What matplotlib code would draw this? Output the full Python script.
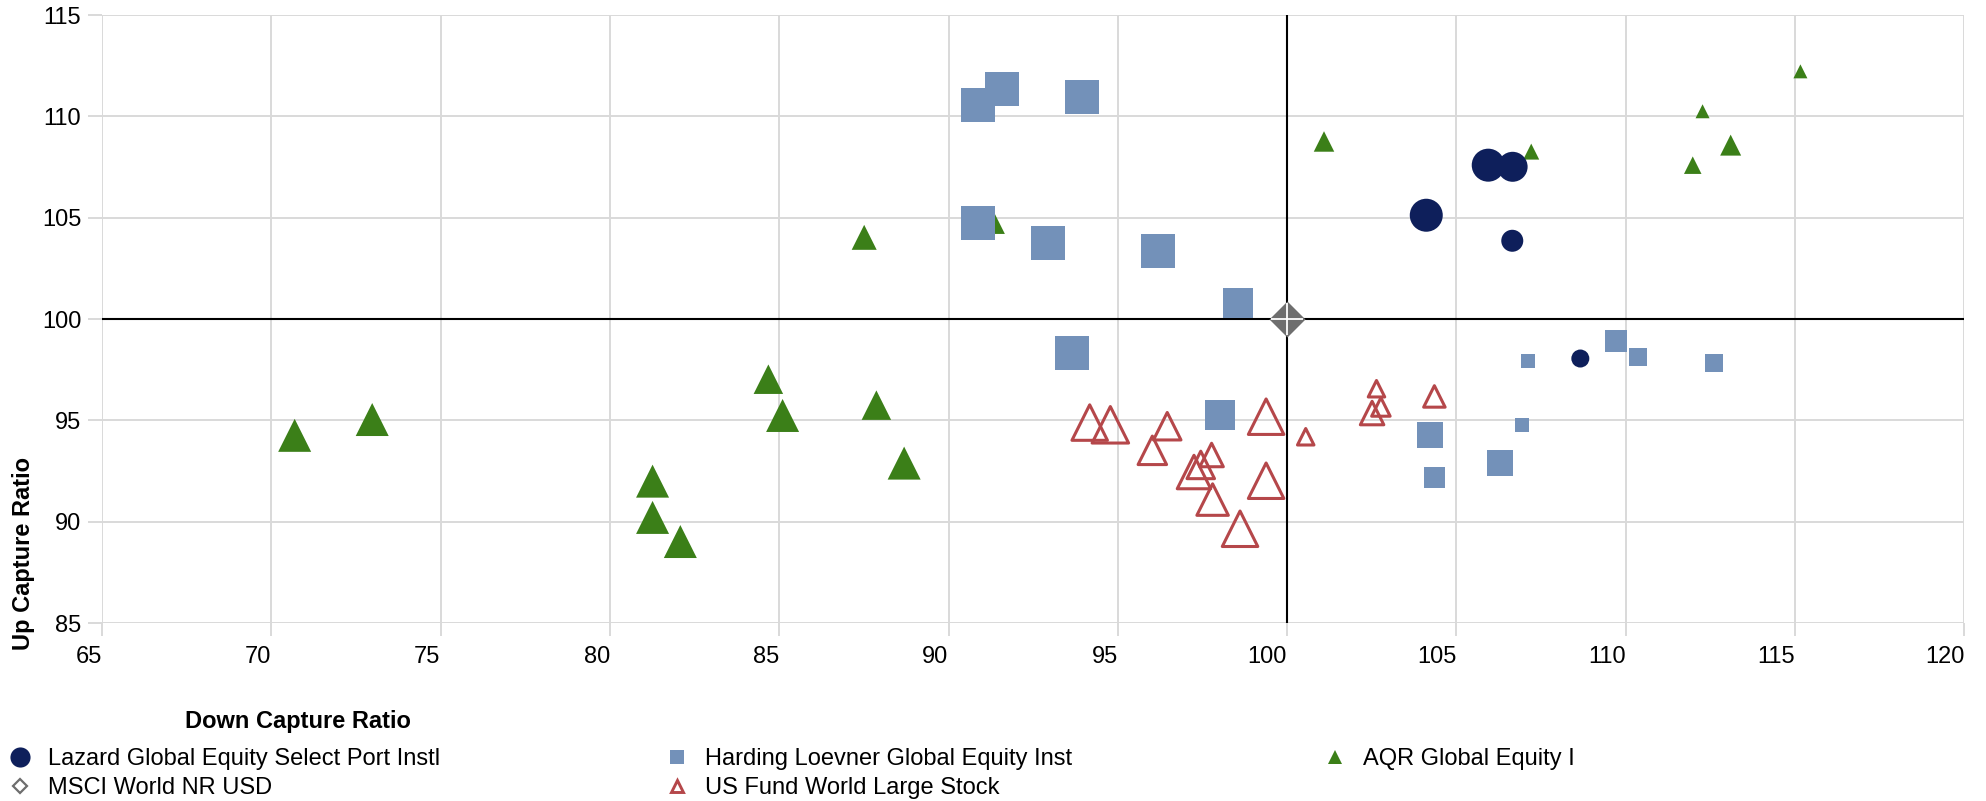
import matplotlib

matplotlib.use("Agg")
import matplotlib.pyplot as plt
from matplotlib.lines import Line2D

plt.rcParams["font.family"] = ["Liberation Sans", "DejaVu Sans"]
plt.rcParams["font.size"] = 17

# Down capture (x), up capture (y), marker width in px
lazard_x = [105.94, 106.66, 104.11, 106.65, 108.66]
lazard_y = [107.59, 107.51, 105.12, 103.86, 98.05]
lazard_w = [33, 30, 33, 22, 18]

harding_x = [90.87, 91.58, 93.94, 90.87, 92.94, 96.19, 98.56, 93.64, 98.01,
             109.71, 110.37, 112.61, 107.11, 106.93, 104.22, 104.34, 106.29]
harding_y = [110.57, 111.36, 110.95, 104.75, 103.77, 103.37, 100.79, 98.33, 95.28,
             98.93, 98.13, 97.84, 97.94, 94.78, 94.29, 92.20, 92.91]
harding_w = [34, 34, 33.5, 34, 34, 34, 30, 34, 30,
             22, 18, 18, 14, 14, 26, 21, 26]

aqr_x = [70.69, 72.98, 81.26, 81.26, 82.08, 84.68, 85.10, 87.87, 88.69,
         87.51, 91.34, 101.09, 107.21, 115.16, 112.27, 113.10, 111.98]
aqr_y = [94.26, 95.04, 92.00, 90.21, 89.02, 97.03, 95.24, 95.75, 92.89,
         104.03, 104.74, 108.76, 108.26, 112.22, 110.25, 108.58, 107.59]
aqr_w = [33, 33, 33, 33, 33, 29.5, 33, 29.5, 33,
         25, 22, 20.5, 16, 14, 14, 21, 17.5]

usfund_x = [94.17, 94.78, 96.46, 96.02, 99.38, 100.55, 97.77, 97.25, 97.45,
            97.80, 99.38, 98.61, 102.64, 102.77, 102.51, 104.35]
usfund_y = [94.89, 94.78, 94.71, 93.52, 95.18, 94.19, 93.29, 92.45, 92.80,
            91.09, 92.02, 89.65, 96.56, 95.66, 95.36, 96.18]
usfund_w = [36, 37, 28, 29, 36, 17, 24, 34, 28,
            32, 36, 36, 17, 19, 24, 22]

msci_x = [100.0]
msci_y = [100.0]

x_ticks = list(range(65, 121, 5))
y_ticks = list(range(85, 116, 5))

C_LAZARD = "#0e1f5b"
C_HARDING = "#7391b9"
C_AQR = "#3b7f18"
C_USFUND = "#b5474a"
C_MSCI = "#6e6e6e"
GRID = "#d9d9d9"

W, H, DPI = 1986, 801, 100
PX = 72 / DPI  # px -> pt


def area(widths, minus=0.0):
    return [((w - minus) * PX) ** 2 for w in widths]


fig = plt.figure(figsize=(W / DPI, H / DPI), dpi=DPI)
ax = fig.add_axes([102 / W, 1 - 623 / H, (1964.3 - 102) / W, 608 / H])

ax.set_xlim(65, 120)
ax.set_ylim(85, 115)
ax.set_xticks(x_ticks)
ax.set_yticks(y_ticks)
for s in ax.spines.values():
    s.set_visible(False)
ax.grid(True, color=GRID, linewidth=1.4, zorder=0)
ax.set_axisbelow(True)
ax.tick_params(axis="y", length=10, width=1.4, color=GRID, pad=5, labelsize=17)
ax.tick_params(axis="x", length=9.4, width=1.4, color=GRID, pad=7.5, labelsize=17)
for lbl in ax.get_xticklabels():
    lbl.set_ha("right")

ax.axhline(100, color="black", linewidth=1.5, zorder=2)
ax.axvline(100, color="black", linewidth=1.5, zorder=2)

ax.scatter(aqr_x, aqr_y, s=area(aqr_w), marker="^", color=C_AQR,
           linewidths=0, zorder=3)
ax.scatter(usfund_x, usfund_y, s=area(usfund_w, 0.5), marker="^",
           facecolors="none", edgecolors=C_USFUND, linewidths=2.2, zorder=4)
ax.scatter(harding_x, harding_y, s=area(harding_w), marker="s", color=C_HARDING,
           linewidths=0, zorder=5)
ax.scatter(lazard_x, lazard_y, s=area(lazard_w), marker="o", color=C_LAZARD,
           linewidths=0, zorder=6)
ax.scatter(msci_x, msci_y, s=area([36 / 1.414]), marker="D", color=C_MSCI,
           linewidths=0, zorder=7)
ax.scatter(msci_x, msci_y, s=area([32]), marker="+", color="white",
           linewidths=1.3, zorder=8)

ax.set_ylabel("Up Capture Ratio", fontweight="bold", fontsize=17,
              ha="center", va="center")
ax.yaxis.set_label_coords(-0.0422, 0.114)
ax.set_xlabel("Down Capture Ratio", fontweight="bold", fontsize=17,
              ha="center", va="center")
ax.xaxis.set_label_coords(0.105, -0.162)

h_lazard = Line2D([], [], ls="none", marker="o", color=C_LAZARD, markersize=14.5,
                  markeredgewidth=0)
h_msci = Line2D([], [], ls="none", marker="D", markerfacecolor="none",
                markeredgecolor=C_MSCI, markersize=7.6, markeredgewidth=1.6)
h_harding = Line2D([], [], ls="none", marker="s", color=C_HARDING, markersize=10.6,
                   markeredgewidth=0)
h_usfund = Line2D([], [], ls="none", marker="^", markerfacecolor="none",
                  markeredgecolor=C_USFUND, markersize=9, markeredgewidth=2.1)
h_aqr = Line2D([], [], ls="none", marker="^", color=C_AQR, markersize=10,
               markeredgewidth=0)

groups = [
    ([h_lazard, h_msci], ["Lazard Global Equity Select Port Instl", "MSCI World NR USD"], 20),
    ([h_harding, h_usfund], ["Harding Loevner Global Equity Inst", "US Fund World Large Stock"], 677),
    ([h_aqr], ["AQR Global Equity I"], 1335),
]
for handles, labels, mx in groups:
    fig.legend(handles, labels, loc="upper left",
               bbox_to_anchor=((mx - 11.8) / W, 1 - 748 / H),
               frameon=False, borderpad=0, borderaxespad=0,
               handlelength=1.0, handletextpad=0.7, labelspacing=0.3,
               fontsize=17)

fig.savefig("out.png", dpi=DPI)
